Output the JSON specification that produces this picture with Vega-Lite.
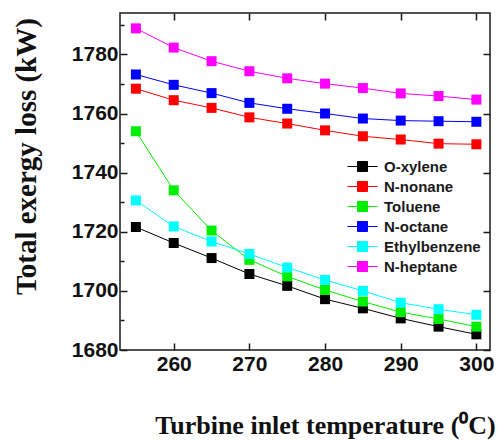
{
  "$schema": "https://vega.github.io/schema/vega-lite/v6.json",
  "width": 370,
  "height": 337,
  "autosize": {"type": "none"},
  "padding": {"left": 120, "top": 13, "right": 9, "bottom": 93},
  "background": "white",
  "config": {
    "view": {"stroke": "#1a1a1a", "strokeWidth": 1.5},
    "axis": {"grid": false, "domain": false, "tickColor": "#1a1a1a", "tickWidth": 1.5, "labelFont": "Liberation Sans", "labelFontSize": 21, "labelFontWeight": "bold", "labelColor": "#111111", "titleColor": "#111111", "format": "d"}
  },
  "data": {"values": [
    {"t": 255, "fluid": "O-xylene", "loss": 1721.6}, {"t": 260, "fluid": "O-xylene", "loss": 1716.2}, {"t": 265, "fluid": "O-xylene", "loss": 1711.1}, {"t": 270, "fluid": "O-xylene", "loss": 1705.7}, {"t": 275, "fluid": "O-xylene", "loss": 1701.7}, {"t": 280, "fluid": "O-xylene", "loss": 1697.2}, {"t": 285, "fluid": "O-xylene", "loss": 1694.1}, {"t": 290, "fluid": "O-xylene", "loss": 1690.7}, {"t": 295, "fluid": "O-xylene", "loss": 1687.9}, {"t": 300, "fluid": "O-xylene", "loss": 1685.3},
    {"t": 255, "fluid": "N-nonane", "loss": 1768.4}, {"t": 260, "fluid": "N-nonane", "loss": 1764.5}, {"t": 265, "fluid": "N-nonane", "loss": 1761.9}, {"t": 270, "fluid": "N-nonane", "loss": 1758.7}, {"t": 275, "fluid": "N-nonane", "loss": 1756.6}, {"t": 280, "fluid": "N-nonane", "loss": 1754.3}, {"t": 285, "fluid": "N-nonane", "loss": 1752.3}, {"t": 290, "fluid": "N-nonane", "loss": 1751.2}, {"t": 295, "fluid": "N-nonane", "loss": 1749.8}, {"t": 300, "fluid": "N-nonane", "loss": 1749.6},
    {"t": 255, "fluid": "Toluene", "loss": 1754.0}, {"t": 260, "fluid": "Toluene", "loss": 1734.0}, {"t": 265, "fluid": "Toluene", "loss": 1720.4}, {"t": 270, "fluid": "Toluene", "loss": 1710.5}, {"t": 275, "fluid": "Toluene", "loss": 1704.9}, {"t": 280, "fluid": "Toluene", "loss": 1700.3}, {"t": 285, "fluid": "Toluene", "loss": 1696.4}, {"t": 290, "fluid": "Toluene", "loss": 1692.8}, {"t": 295, "fluid": "Toluene", "loss": 1690.5}, {"t": 300, "fluid": "Toluene", "loss": 1687.9},
    {"t": 255, "fluid": "N-octane", "loss": 1773.2}, {"t": 260, "fluid": "N-octane", "loss": 1769.7}, {"t": 265, "fluid": "N-octane", "loss": 1766.9}, {"t": 270, "fluid": "N-octane", "loss": 1763.6}, {"t": 275, "fluid": "N-octane", "loss": 1761.6}, {"t": 280, "fluid": "N-octane", "loss": 1760.0}, {"t": 285, "fluid": "N-octane", "loss": 1758.3}, {"t": 290, "fluid": "N-octane", "loss": 1757.6}, {"t": 295, "fluid": "N-octane", "loss": 1757.4}, {"t": 300, "fluid": "N-octane", "loss": 1757.2},
    {"t": 255, "fluid": "Ethylbenzene", "loss": 1730.6}, {"t": 260, "fluid": "Ethylbenzene", "loss": 1721.8}, {"t": 265, "fluid": "Ethylbenzene", "loss": 1716.7}, {"t": 270, "fluid": "Ethylbenzene", "loss": 1712.5}, {"t": 275, "fluid": "Ethylbenzene", "loss": 1707.9}, {"t": 280, "fluid": "Ethylbenzene", "loss": 1703.7}, {"t": 285, "fluid": "Ethylbenzene", "loss": 1700.0}, {"t": 290, "fluid": "Ethylbenzene", "loss": 1696.0}, {"t": 295, "fluid": "Ethylbenzene", "loss": 1693.8}, {"t": 300, "fluid": "Ethylbenzene", "loss": 1691.9},
    {"t": 255, "fluid": "N-heptane", "loss": 1788.8}, {"t": 260, "fluid": "N-heptane", "loss": 1782.3}, {"t": 265, "fluid": "N-heptane", "loss": 1777.7}, {"t": 270, "fluid": "N-heptane", "loss": 1774.3}, {"t": 275, "fluid": "N-heptane", "loss": 1771.9}, {"t": 280, "fluid": "N-heptane", "loss": 1770.1}, {"t": 285, "fluid": "N-heptane", "loss": 1768.6}, {"t": 290, "fluid": "N-heptane", "loss": 1766.8}, {"t": 295, "fluid": "N-heptane", "loss": 1765.9}, {"t": 300, "fluid": "N-heptane", "loss": 1764.7}
  ]},
  "layer": [
    {
      "mark": {"type": "line", "strokeWidth": 1},
      "encoding": {
        "x": {"field": "t", "type": "quantitative", "scale": {"domain": [252.9, 301.8], "nice": false, "zero": false},
              "axis": {"orient": "bottom", "values": [260, 270, 280, 290, 300], "tickSize": -7, "labelPadding": 10,
                       "title": "Turbine inlet temperature (⁰C)", "titleFont": "Liberation Serif", "titleFontSize": 26, "titleFontWeight": "bold",
                       "titleX": 205, "titleY": 75, "titleBaseline": "middle", "titleAlign": "center"}},
        "y": {"field": "loss", "type": "quantitative", "scale": {"domain": [1680, 1794], "nice": false, "zero": false},
              "axis": {"orient": "left", "values": [1680, 1700, 1720, 1740, 1760, 1780], "tickSize": -7, "labelPadding": 9,
                       "title": "Total exergy loss (kW)", "titleFont": "Liberation Serif", "titleFontSize": 29, "titleFontWeight": "bold",
                       "titleX": -94, "titleY": 143, "titleBaseline": "middle", "titleAlign": "center", "titleAngle": 270}},
        "color": {"field": "fluid", "type": "nominal",
                  "scale": {"domain": ["O-xylene", "N-nonane", "Toluene", "N-octane", "Ethylbenzene", "N-heptane"],
                            "range": ["#000000", "#ff0000", "#00ee00", "#0000ff", "#00ffff", "#ff00ff"]},
                  "legend": {"orient": "none", "legendX": 232, "legendY": 143, "title": null, "padding": 0,
                             "symbolType": "M-1.5,0H-0.5M0.5,0H1.5M-0.5,-0.5H0.5V0.5H-0.5Z", "symbolSize": 400, "symbolStrokeWidth": 1,
                             "labelFont": "Liberation Sans", "labelFontSize": 15, "labelFontWeight": "bold", "labelColor": "#1a1a1a", "labelOffset": 11, "rowPadding": 1,
                             "encode": {"symbols": {"update": {"fill": {"scale": "color", "field": "value"}, "stroke": {"scale": "color", "field": "value"}, "fillOpacity": {"value": 1}, "strokeWidth": {"value": 1}}}}}},
        "detail": {"field": "fluid"}
      }
    },
    {
      "mark": {"type": "point", "shape": "square", "filled": true, "size": 100, "opacity": 1},
      "encoding": {
        "x": {"field": "t", "type": "quantitative", "axis": null},
        "y": {"field": "loss", "type": "quantitative", "axis": null},
        "color": {"field": "fluid", "type": "nominal", "legend": null}
      }
    },
    {
      "mark": {"type": "point", "opacity": 0},
      "encoding": {
        "x": {"field": "t", "type": "quantitative", "axis": {"orient": "top", "values": [260, 270, 280, 290, 300], "tickSize": -7, "labels": false, "title": null}},
        "y": {"field": "loss", "type": "quantitative", "axis": {"orient": "right", "values": [1680, 1700, 1720, 1740, 1760, 1780], "tickSize": -7, "labels": false, "title": null}}
      }
    },
    {
      "mark": {"type": "point", "opacity": 0},
      "encoding": {
        "x": {"field": "t", "type": "quantitative", "axis": null},
        "y": {"field": "loss", "type": "quantitative", "axis": {"orient": "left", "values": [1690, 1710, 1730, 1750, 1770, 1790], "tickSize": -4, "labels": false, "title": null}}
      }
    }
  ],
  "resolve": {"axis": {"x": "independent", "y": "independent"}}
}
